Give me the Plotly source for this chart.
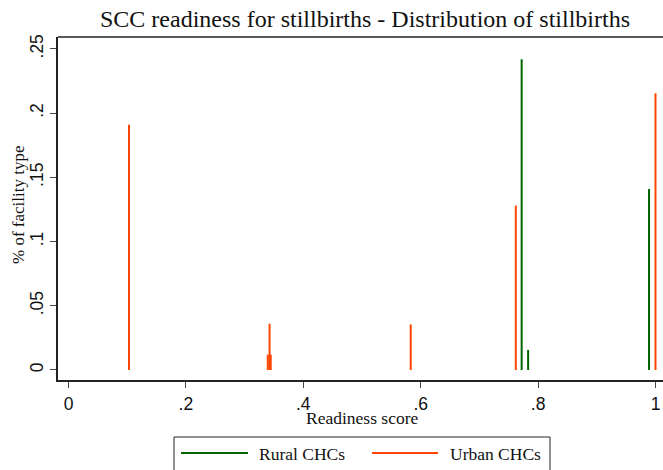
import plotly.graph_objects as go

# ---- data ----
rural_x = [0.772, 0.783, 0.989]
rural_y = [0.242, 0.0156, 0.141]
urban_x = [0.103, 0.3395, 0.3425, 0.3445, 0.583, 0.762, 1.0]
urban_y = [0.191, 0.012, 0.036, 0.012, 0.0355, 0.128, 0.2155]
x_ticks = [0, 0.2, 0.4, 0.6, 0.8, 1]
x_tick_labels = ["0", ".2", ".4", ".6", ".8", "1"]
y_ticks = [0, 0.05, 0.1, 0.15, 0.2, 0.25]
y_tick_labels = ["0", ".05", ".1", ".15", ".2", ".25"]
series_names = ["Rural CHCs", "Urban CHCs"]

GREEN = "#006400"
ORANGE = "#FF4500"


def spikes(xs, ys):
    px, py = [], []
    for x, y in zip(xs, ys):
        px += [x, x, None]
        py += [0, y, None]
    return px, py


fig = go.Figure()
rx, ry = spikes(rural_x, rural_y)
ux, uy = spikes(urban_x, urban_y)
fig.add_trace(go.Scatter(x=rx, y=ry, mode="lines", name=series_names[0],
                         line=dict(color=GREEN, width=2), showlegend=False))
fig.add_trace(go.Scatter(x=ux, y=uy, mode="lines", name=series_names[1],
                         line=dict(color=ORANGE, width=2), showlegend=False))

SERIF = "Liberation Serif"
SANS = "Liberation Sans"

# plot area in pixels: left 58, right 663, top 37, bottom 380
L, R, T, B = 58, 663, 37, 380


def px_x(p):
    return (p - L) / (R - L)


def px_y(p):
    return (B - p) / (B - T)


shapes = [
    # top border of plot region
    dict(type="line", xref="paper", yref="paper", x0=0, x1=1, y0=1, y1=1,
         line=dict(color="#222222", width=1.5)),
    # legend box
    dict(type="rect", xref="paper", yref="paper",
         x0=px_x(174), x1=px_x(550), y0=px_y(437), y1=px_y(478),
         line=dict(color="#222222", width=1), fillcolor="white"),
    dict(type="line", xref="paper", yref="paper",
         x0=px_x(181), x1=px_x(248), y0=px_y(453), y1=px_y(453),
         line=dict(color=GREEN, width=2)),
    dict(type="line", xref="paper", yref="paper",
         x0=px_x(372), x1=px_x(438), y0=px_y(453), y1=px_y(453),
         line=dict(color=ORANGE, width=2)),
]
annotations = [
    dict(text=series_names[0], xref="paper", yref="paper", x=px_x(257), y=px_y(454),
         xanchor="left", yanchor="middle", showarrow=False,
         font=dict(family=SERIF, size=17.5, color="#111111")),
    dict(text=series_names[1], xref="paper", yref="paper", x=px_x(448), y=px_y(454),
         xanchor="left", yanchor="middle", showarrow=False,
         font=dict(family=SERIF, size=17.5, color="#111111")),
    dict(text="% of facility type", xref="paper", yref="paper", x=px_x(18), y=px_y(205),
         xanchor="center", yanchor="middle", showarrow=False, textangle=-90,
         font=dict(family=SERIF, size=17, color="#111111")),
    dict(text="Readiness score", xref="paper", yref="paper", x=px_x(362), y=px_y(418),
         xanchor="center", yanchor="middle", showarrow=False,
         font=dict(family=SERIF, size=17.5, color="#111111")),
]

fig.update_layout(
    width=663, height=470,
    margin=dict(l=L, r=0, t=T, b=470 - B),
    paper_bgcolor="white", plot_bgcolor="white",
    title=dict(text="SCC readiness for stillbirths - Distribution of stillbirths",
               x=365 / 663, xanchor="center",
               y=1 - 18.5 / 470, yanchor="middle",
               font=dict(family=SERIF, size=24, color="#111111")),
    shapes=shapes,
    annotations=annotations,
    xaxis=dict(range=[-0.0179, 1.0128], tickvals=x_ticks, ticktext=x_tick_labels,
               showgrid=False, zeroline=False, showline=True, linecolor="#222222",
               linewidth=1.5, ticks="outside", ticklen=6, tickcolor="#444444",
               tickfont=dict(family=SANS, size=17.5, color="#111111"),
               ticklabelstandoff=1),
    yaxis=dict(range=[-0.0078, 0.2593], tickvals=y_ticks, ticktext=y_tick_labels,
               showgrid=False, zeroline=False, showline=True, linecolor="#222222",
               linewidth=1.5, ticks="outside", ticklen=6, tickcolor="#444444",
               tickangle=-90,
               tickfont=dict(family=SANS, size=17.5, color="#111111")),
)

fig.write_html("out.html",
               config={"displayModeBar": False},
               post_script="document.body.style.margin='0px';"
                           "document.body.style.overflow='hidden';")
